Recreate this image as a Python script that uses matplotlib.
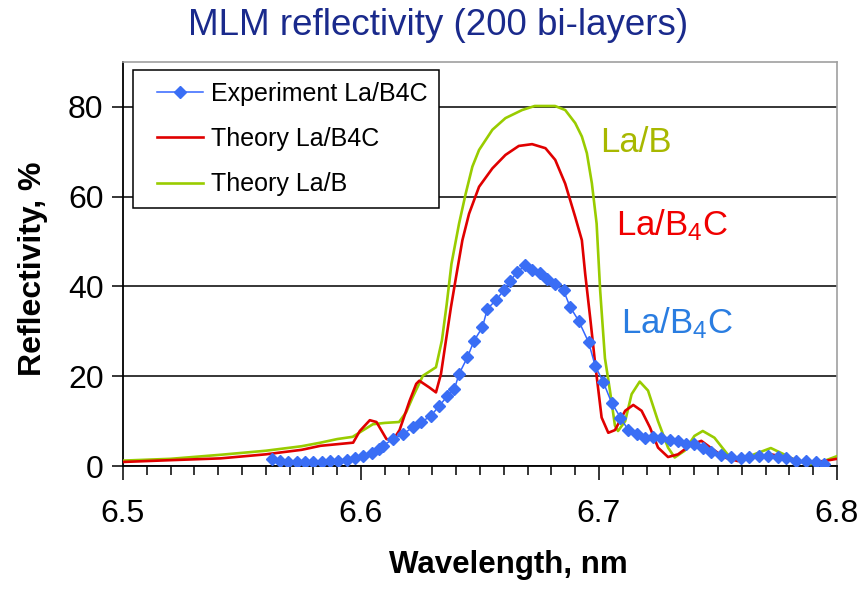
import matplotlib
matplotlib.use("Agg")
import matplotlib.pyplot as plt
from matplotlib.legend_handler import HandlerLine2D
from matplotlib.ticker import MultipleLocator
import numpy as np

plt.rcParams['font.family'] = ['Liberation Sans', 'DejaVu Sans']
plt.rcParams['mathtext.fontset'] = 'custom'
plt.rcParams['mathtext.rm'] = 'Liberation Sans'
plt.rcParams['mathtext.it'] = 'Liberation Sans:italic'
plt.rcParams['mathtext.bf'] = 'Liberation Sans:bold'

# ---------------- data ----------------
lab_wl = [6.500, 6.520, 6.541, 6.560, 6.575, 6.583, 6.590, 6.5965, 6.601, 6.605,
          6.610, 6.616, 6.619, 6.6217, 6.626, 6.6315, 6.634, 6.636, 6.638, 6.6412,
          6.644, 6.6468, 6.6496, 6.6552, 6.6607, 6.6677, 6.673, 6.6815, 6.6858, 6.690,
          6.6928, 6.6949, 6.697, 6.699, 6.7005, 6.7025, 6.7046, 6.7067, 6.708, 6.711,
          6.7137, 6.7171, 6.7206, 6.7248, 6.729, 6.7318, 6.736, 6.7401, 6.7436, 6.7485,
          6.754, 6.7596, 6.7652, 6.7722, 6.7777, 6.7833, 6.7889, 6.7945, 6.800]
lab_R = [1.2, 1.6, 2.5, 3.4, 4.4, 5.2, 6.0, 6.5, 8.0, 9.3,
         9.6, 9.8, 12.0, 15.3, 20.1, 22.0, 28.0, 36.0, 45.0, 54.0,
         60.7, 66.7, 70.4, 74.9, 77.5, 79.3, 80.2, 80.2, 79.3, 76.4,
         73.4, 69.7, 63.0, 54.0, 39.0, 24.0, 16.8, 9.0, 7.8, 10.0,
         16.0, 18.8, 16.8, 10.0, 4.1, 1.9, 3.4, 6.7, 7.8, 6.3,
         2.6, 1.1, 2.6, 4.0, 2.6, 1.1, 0.4, 1.1, 2.2]

lab4c_wl = [6.500, 6.520, 6.541, 6.560, 6.575, 6.583, 6.5967, 6.5995, 6.6037, 6.6065,
            6.6107, 6.6135, 6.6162, 6.6204, 6.6232, 6.6245, 6.6287, 6.6315, 6.6336, 6.6357,
            6.6378, 6.6399, 6.6426, 6.6454, 6.6496, 6.6552, 6.6607, 6.6663, 6.6719, 6.6775,
            6.6816, 6.6858, 6.690, 6.6928, 6.6942, 6.6963, 6.6984, 6.6997, 6.7011, 6.7039,
            6.7067, 6.711, 6.7144, 6.7179, 6.7214, 6.7248, 6.729, 6.7332, 6.7388, 6.743,
            6.7471, 6.7527, 6.7583, 6.7652, 6.7722, 6.7791, 6.786, 6.7945, 6.800]
lab4c_R = [0.9, 1.3, 1.7, 2.6, 3.6, 4.5, 5.2, 7.8, 10.2, 9.8,
           6.0, 5.8, 8.0, 14.5, 18.3, 19.0, 17.5, 16.4, 20.5, 28.0,
           35.4, 42.0, 50.3, 56.2, 62.2, 66.3, 69.3, 71.3, 71.7, 70.8,
           68.2, 62.9, 55.5, 50.3, 42.8, 33.0, 22.7, 17.0, 10.8, 7.4,
           8.0, 12.3, 13.6, 12.3, 8.6, 4.1, 2.0, 2.6, 4.8, 5.6,
           4.0, 1.9, 1.1, 2.0, 2.6, 1.9, 0.8, 1.1, 1.6]

exp_wl = [6.5625, 6.566, 6.5695, 6.573, 6.5765, 6.580, 6.5835, 6.587, 6.5905, 6.594,
          6.5975, 6.601, 6.6045, 6.6075, 6.6092, 6.6134, 6.6176, 6.6217, 6.6252, 6.6294,
          6.6329, 6.6363, 6.6392, 6.6412, 6.6447, 6.6475, 6.651, 6.6531, 6.6566, 6.660,
          6.6628, 6.6656, 6.6691, 6.6719, 6.6754, 6.6782, 6.6816, 6.6851, 6.6879, 6.6914,
          6.6956, 6.6984, 6.7018, 6.7053, 6.709, 6.7123, 6.7158, 6.7192, 6.7227, 6.7262,
          6.7297, 6.7332, 6.7366, 6.7401, 6.7436, 6.7471, 6.7513, 6.7555, 6.7596, 6.7631,
          6.7673, 6.7708, 6.775, 6.7784, 6.7826, 6.7868, 6.791, 6.7945]
exp_R = [1.5, 1.1, 1.0, 0.9, 1.0, 1.0, 1.0, 1.1, 1.1, 1.4,
         1.8, 2.3, 3.0, 3.8, 4.5, 6.0, 7.1, 8.6, 9.7, 11.2,
         13.4, 15.6, 17.1, 20.5, 24.2, 27.9, 30.9, 35.0, 36.9, 39.1,
         41.3, 43.2, 44.7, 43.6, 43.0, 41.7, 40.5, 39.1, 35.4, 32.4,
         27.6, 22.3, 18.7, 14.1, 10.8, 8.0, 7.1, 6.2, 6.5, 6.3,
         5.9, 5.6, 5.0, 4.8, 4.0, 3.2, 2.5, 2.0, 1.7, 1.9,
         2.2, 2.2, 1.9, 1.7, 1.1, 1.1, 0.9, 0.4]

series_labels = ["Experiment La/B4C", "Theory La/B4C", "Theory La/B"]
x_ticks = [6.5, 6.6, 6.7, 6.8]
y_ticks = [0, 20, 40, 60, 80]

# ---------------- figure ----------------
W, H = 857, 589
fig = plt.figure(figsize=(W / 100, H / 100), dpi=100)
L, R, T, B = 123, 837, 62, 466
ax = fig.add_axes([L / W, 1 - B / H, (R - L) / W, (B - T) / H])

GREEN = '#99cc00'
RED = '#e00000'
BLUE = '#3366ff'

l_green, = ax.plot(lab_wl, lab_R, color=GREEN, lw=1.9, solid_joinstyle='round', zorder=3)
l_red, = ax.plot(lab4c_wl, lab4c_R, color=RED, lw=1.9, solid_joinstyle='round', zorder=4)
l_blue, = ax.plot(exp_wl, exp_R, color=BLUE, lw=1.1, marker='D', markersize=5.8,
                  markerfacecolor='#3a6ef5', markeredgecolor='#3a6ef5', zorder=5)

ax.set_xlim(6.5, 6.8)
ax.set_ylim(0, 90)
ax.set_xticks(x_ticks)
ax.set_xticklabels([f"{v:.1f}" for v in x_ticks])
ax.xaxis.set_minor_locator(MultipleLocator(0.01))
ax.set_yticks(y_ticks)
ax.set_yticklabels([str(v) for v in y_ticks])

ax.tick_params(axis='x', which='major', direction='out', length=10, width=1.1,
               labelsize=23, pad=14, color='black')
ax.tick_params(axis='x', which='minor', direction='out', length=6.5, width=1.1, color='black')
ax.tick_params(axis='y', which='major', direction='out', length=8, width=1.1,
               labelsize=23, pad=6, color='black')

ax.yaxis.grid(True, color='black', lw=1.1)
ax.set_axisbelow(True)
for s in ['left', 'bottom']:
    ax.spines[s].set_color('black')
    ax.spines[s].set_linewidth(1.3)
for s in ['top', 'right']:
    ax.spines[s].set_color('#a0a0a0')
    ax.spines[s].set_linewidth(1.2)

# title and axis labels
fig.text(438.5 / W, 1 - 35 / H, "MLM reflectivity (200 bi-layers)", color='#1a2a8c',
         fontsize=26.5, ha='center', va='baseline')
fig.text(508 / W, 1 - 573 / H, "Wavelength, nm", fontsize=22.5, fontweight='bold',
         ha='center', va='baseline')
fig.text(33 / W, 1 - 269 / H, "Reflectivity, %", fontsize=23, fontweight='bold',
         rotation=90, ha='center', va='center')

# annotations
fig.text(600 / W, 1 - 152 / H, "La/B", color='#a8b800', fontsize=25, ha='left', va='baseline')
fig.text(616 / W, 1 - 235 / H, r"La/B$\mathregular{_4}$C", color='#f00000', fontsize=25,
         ha='left', va='baseline')
fig.text(621 / W, 1 - 333 / H, r"La/B$\mathregular{_4}$C", color='#2a7de1', fontsize=25,
         ha='left', va='baseline')


class ShiftHandler(HandlerLine2D):
    def __init__(self, shift_em=0.5, **kw):
        super().__init__(**kw)
        self.shift_em = shift_em

    def create_artists(self, legend, orig_handle, xdescent, ydescent, width, height,
                       fontsize, trans):
        sh = self.shift_em * fontsize
        return super().create_artists(legend, orig_handle, xdescent - sh, ydescent,
                                      width - sh, height, fontsize, trans)


leg = ax.legend([l_blue, l_red, l_green], series_labels,
                loc='upper left', bbox_to_anchor=(133 / W, 1 - 70 / H),
                bbox_transform=fig.transFigure, borderaxespad=0,
                fontsize=18, frameon=True, fancybox=False, shadow=False,
                handlelength=2.35, handletextpad=0.32, borderpad=0.46,
                labelspacing=0.86, numpoints=1,
                handler_map={l_blue: ShiftHandler(), l_red: ShiftHandler(),
                             l_green: ShiftHandler()})
leg.get_frame().set_edgecolor('black')
leg.get_frame().set_linewidth(1.1)
leg.get_frame().set_alpha(1)
leg.set_zorder(10)

fig.savefig("out.png", dpi=100)
